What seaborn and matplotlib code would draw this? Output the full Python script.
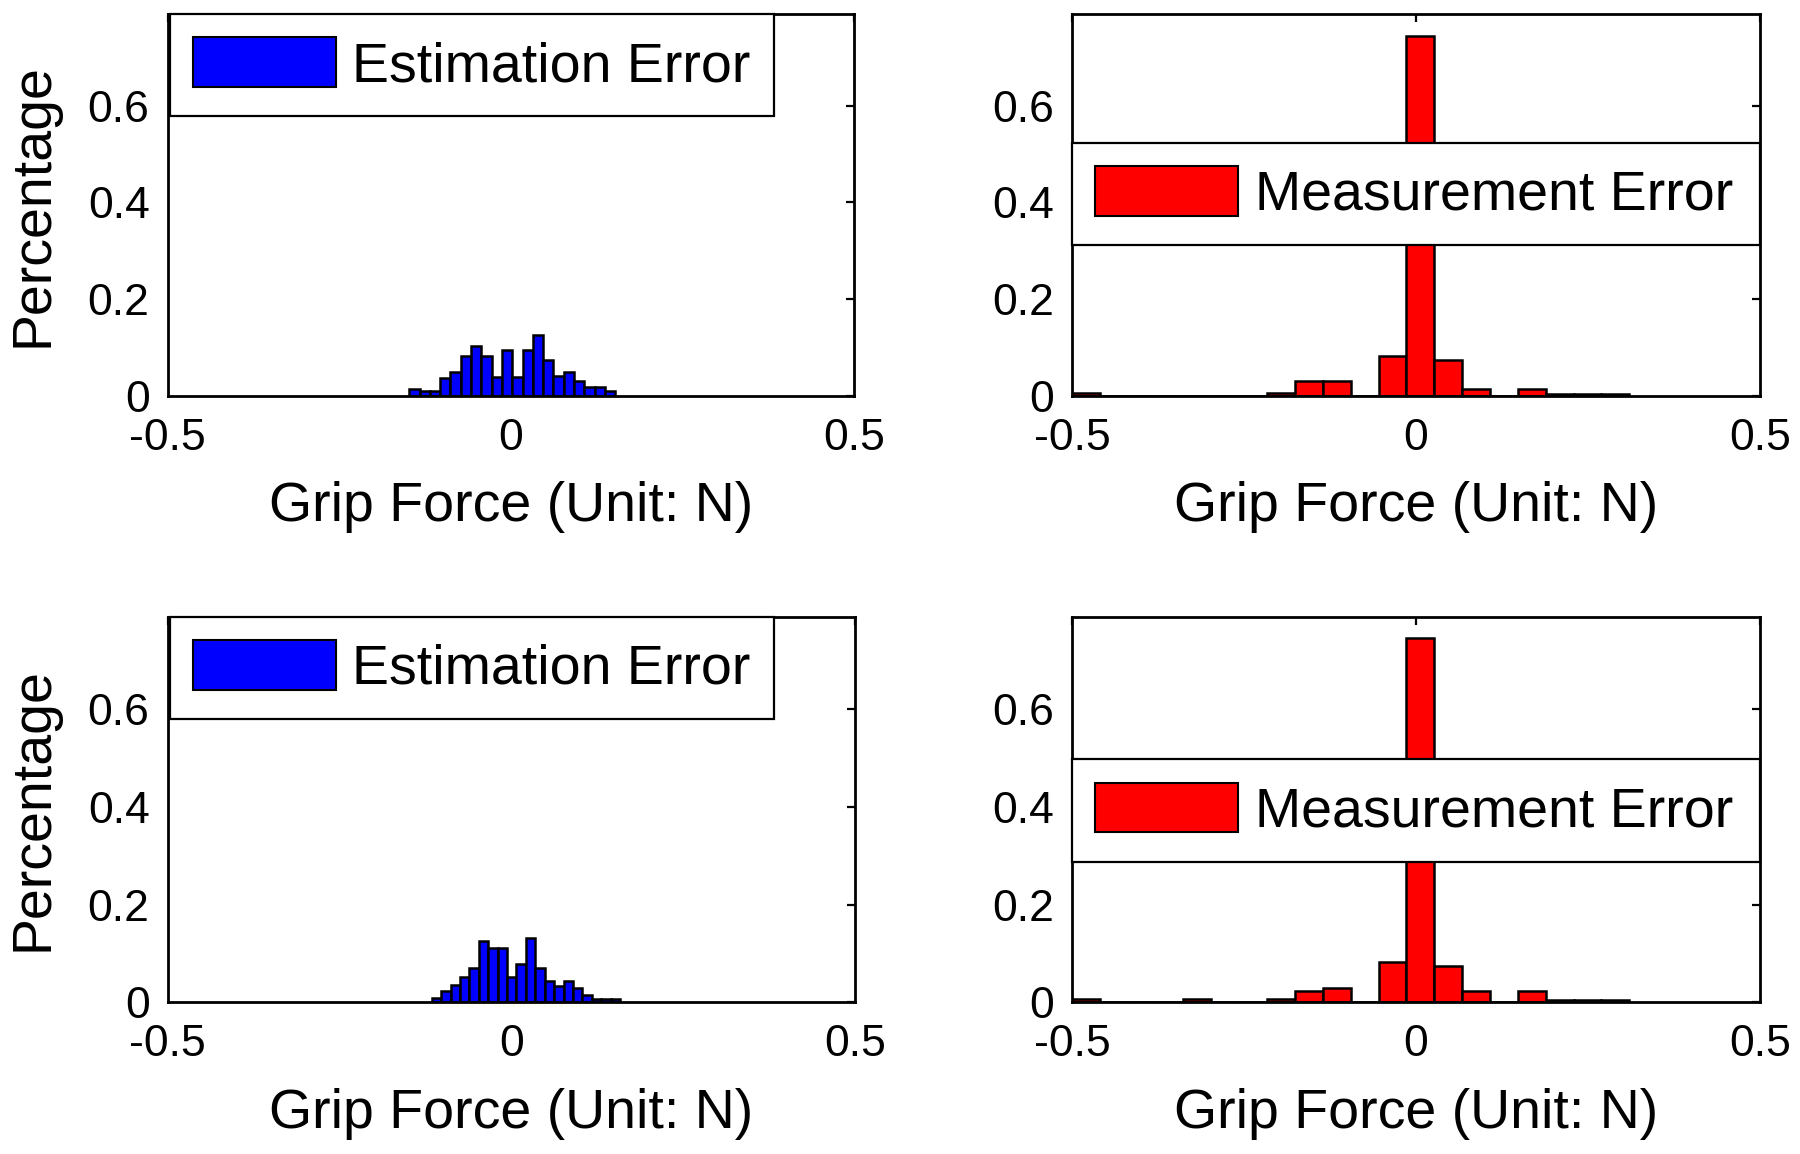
import numpy as np
import pandas as pd
import matplotlib
matplotlib.use("Agg")
import matplotlib.pyplot as plt
from matplotlib.patches import Patch
import seaborn as sns

# ---------------- data ----------------
n_bins = 20

# top-left: Estimation Error
est_top_range = (-0.148, 0.152)
est_top_heights = [0.014, 0.011, 0.011, 0.037, 0.050, 0.082, 0.104, 0.082, 0.040, 0.095,
                   0.040, 0.095, 0.127, 0.075, 0.041, 0.050, 0.032, 0.018, 0.018, 0.010]

# top-right: Measurement Error
meas_top_range = (-0.5, 0.31)
meas_top_heights = [0.006, 0.0, 0.0, 0.0, 0.0, 0.0, 0.0, 0.006, 0.030, 0.030,
                    0.0, 0.082, 0.745, 0.075, 0.015, 0.0, 0.015, 0.005, 0.005, 0.005]

# bottom-left: Estimation Error
est_bot_range = (-0.116, 0.158)
est_bot_heights = [0.008, 0.022, 0.036, 0.051, 0.071, 0.125, 0.110, 0.110, 0.051, 0.078,
                   0.132, 0.071, 0.044, 0.034, 0.044, 0.029, 0.015, 0.007, 0.007, 0.007]

# bottom-right: Measurement Error
meas_bot_range = (-0.5, 0.31)
meas_bot_heights = [0.006, 0.0, 0.0, 0.0, 0.006, 0.0, 0.0, 0.006, 0.022, 0.029,
                    0.0, 0.082, 0.745, 0.075, 0.022, 0.0, 0.022, 0.005, 0.005, 0.005]

xticks = [-0.5, 0, 0.5]
xtick_labels = ["-0.5", "0", "0.5"]
yticks = [0, 0.2, 0.4, 0.6]
ytick_labels = ["0", "0.2", "0.4", "0.6"]
xlim = (-0.5, 0.5)
ylim = (0, 0.79)
xlabel = "Grip Force (Unit: N)"
ylabel = "Percentage"
est_label = "Estimation Error"
meas_label = "Measurement Error"
est_color = "#0000FF"
meas_color = "#FF0000"

# ---------------- style ----------------
sns.set_theme(style="white")
plt.rcParams["font.family"] = ["Liberation Sans", "DejaVu Sans"]
plt.rcParams["text.color"] = "black"
plt.rcParams["axes.labelcolor"] = "black"
plt.rcParams["xtick.color"] = "black"
plt.rcParams["ytick.color"] = "black"

fig = plt.figure(figsize=(18, 11.54), dpi=100)

W, H = 1800.0, 1154.0
def pos(x0, y0, x1, y1):
    return [x0 / W, 1 - y1 / H, (x1 - x0) / W, (y1 - y0) / H]

panels = [
    dict(rect=pos(167.6, 13.8, 854.1, 396.0), rng=est_top_range, h=est_top_heights,
         color=est_color, label=est_label, ylab=True, legend="left"),
    dict(rect=pos(1072.0, 13.8, 1760.0, 396.0), rng=meas_top_range, h=meas_top_heights,
         color=meas_color, label=meas_label, ylab=False, legend=(0.402, 0.253)),
    dict(rect=pos(167.6, 616.5, 855.3, 1002.2), rng=est_bot_range, h=est_bot_heights,
         color=est_color, label=est_label, ylab=True, legend="left"),
    dict(rect=pos(1072.0, 616.5, 1760.0, 1002.2), rng=meas_bot_range, h=meas_bot_heights,
         color=meas_color, label=meas_label, ylab=False, legend=(0.381, 0.232)),
]

for p in panels:
    ax = fig.add_axes(p["rect"])
    edges = np.linspace(p["rng"][0], p["rng"][1], n_bins + 1)
    centers = (edges[:-1] + edges[1:]) / 2
    df = pd.DataFrame({"force": centers, "pct": p["h"]})
    sns.histplot(data=df, x="force", weights="pct", bins=edges.tolist(), stat="count",
                 color=p["color"], edgecolor="black", linewidth=1.8, alpha=1.0,
                 ax=ax)
    ax.set_xlim(*xlim)
    ax.set_ylim(*ylim)
    ax.set_xticks(xticks)
    ax.set_xticklabels(xtick_labels)
    ax.set_yticks(yticks)
    ax.set_yticklabels(ytick_labels)
    ax.tick_params(axis="both", direction="in", top=True, right=True,
                   length=6, width=1.6, labelsize=32, colors="black")
    ax.tick_params(axis="x", pad=16)
    ax.tick_params(axis="y", pad=13)
    for s in ax.spines.values():
        s.set_visible(True)
        s.set_color("black")
        s.set_linewidth(2.0)
    ax.set_xlabel(xlabel, fontsize=40, color="black")
    ax.xaxis.set_label_coords(0.5, -0.222)
    if p["ylab"]:
        ax.set_ylabel(ylabel, fontsize=40, color="black")
        ax.yaxis.set_label_coords(-0.157, 0.5)
    else:
        ax.set_ylabel("")

    handle = Patch(facecolor=p["color"], edgecolor="black", linewidth=1.5)
    common = dict(fontsize=40, frameon=True, fancybox=False, edgecolor="black",
                  framealpha=1.0, borderaxespad=0, handlelength=2.57,
                  handleheight=1.0, handletextpad=0.3, borderpad=0.42,
                  labelcolor="black")
    if p["legend"] == "left":
        leg = ax.legend([handle], [p["label"]], loc="upper left",
                        bbox_to_anchor=(0.003, 1.0), **common)
    else:
        y0, hh = p["legend"]
        leg = ax.legend([handle], [p["label"]], loc="center",
                        bbox_to_anchor=(0.0, y0, 1.0, hh), mode="expand", **common)
    leg.get_frame().set_linewidth(1.6)
    leg.set_zorder(5)

fig.savefig("out.png", dpi=100, facecolor="white")
